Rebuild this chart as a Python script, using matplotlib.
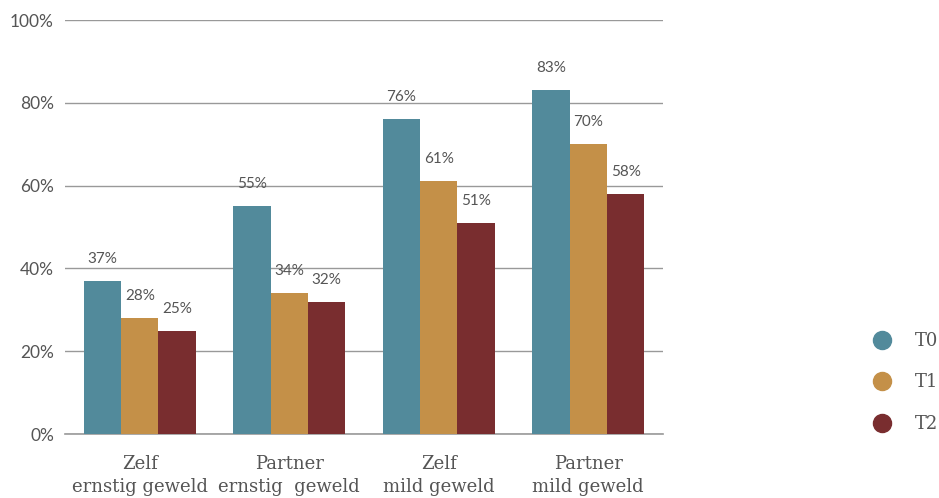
import numpy as np
import matplotlib.pyplot as plt
from matplotlib.lines import Line2D

categories = ['Zelf\nernstig geweld', 'Partner\nernstig  geweld', 'Zelf\nmild geweld', 'Partner\nmild geweld']
series = ['T0', 'T1', 'T2']
t0 = [37, 55, 76, 83]
t1 = [28, 34, 61, 70]
t2 = [25, 32, 51, 58]
colors = ['#528A9B', '#C49048', '#792D2F']

fig = plt.figure(figsize=(9.39, 4.98), dpi=100)
ax = fig.add_axes([65 / 939, 64 / 498, 598 / 939, 414 / 498])

x = np.arange(len(categories))
w = 0.25
for i, (vals, c) in enumerate(zip([t0, t1, t2], colors)):
    pos = x + (i - 1) * w
    ax.bar(pos, vals, width=w, color=c, zorder=3)
    for px, v in zip(pos, vals):
        ax.annotate(f'{v}%', (px, v), xytext=(0, 15), textcoords='offset pixels',
                    ha='center', va='bottom', fontsize=11, color='#555555',
                    family='Lato')

ax.set_xlim(-0.5, 3.5)
ax.set_ylim(0, 100)
ax.set_yticks(range(0, 101, 20))
ax.set_yticklabels([f'{v}%' for v in range(0, 101, 20)], family='Lato', fontsize=12.5, color='#555555')
ax.yaxis.grid(True, color='#999999', linewidth=1, zorder=0)
ax.set_xticks(x)
ax.set_xticklabels(categories, family='DejaVu Serif', fontsize=13, color='#555555', linespacing=1.35)
ax.tick_params(axis='both', length=0)
ax.tick_params(axis='x', pad=15)
ax.tick_params(axis='y', pad=8)
for s in ['top', 'right', 'left']:
    ax.spines[s].set_visible(False)
ax.spines['bottom'].set_color('#999999')
ax.spines['bottom'].set_linewidth(1.2)

handles = [Line2D([], [], marker='o', linestyle='', markersize=13, color=c) for c in colors]
fig.legend(handles, series, loc='center left', bbox_to_anchor=(0.907, 0.232), frameon=False,
           labelspacing=1.3, handletextpad=1.0, handlelength=1.6,
           prop={'family': 'DejaVu Serif', 'size': 13}, labelcolor='#555555')

fig.savefig('out.png', dpi=100)
